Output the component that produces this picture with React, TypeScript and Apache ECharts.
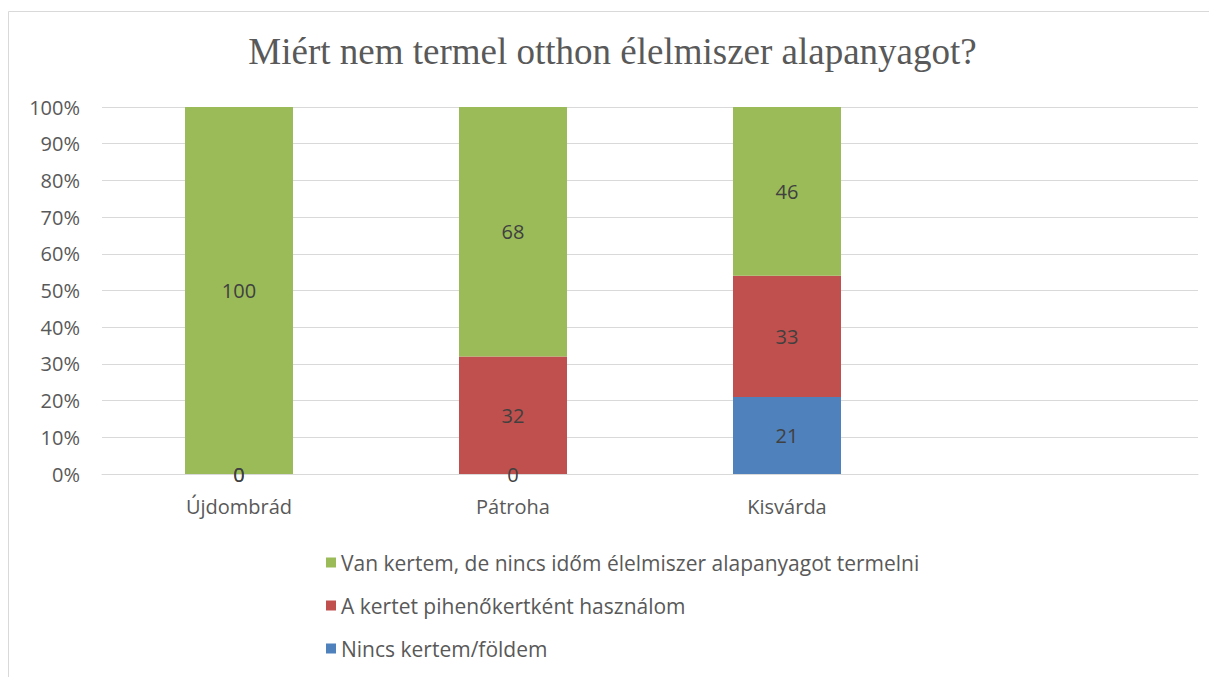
import React, { useEffect, useRef } from "react";
import * as echarts from "echarts";

const categories = ["Újdombrád", "Pátroha", "Kisvárda", ""];
const nincsKertem = [0, 0, 21, null];
const piheno = [0, 32, 33, null];
const nincsIdom = [100, 68, 46, null];
const yTicks = [0, 10, 20, 30, 40, 50, 60, 70, 80, 90, 100];

const seriesNames = [
  "Nincs kertem/földem",
  "A kertet pihenőkertként használom",
  "Van kertem, de nincs időm élelmiszer alapanyagot termelni",
];
const colors = ["#4f81bd", "#c0504d", "#9bbb59"];
const FONT = "'Open Sans', 'Noto Sans', sans-serif";

export default function App() {
  const ref = useRef<HTMLDivElement>(null);
  useEffect(() => {
    if (!ref.current) return;
    const chart = echarts.init(ref.current, null, { renderer: "svg" });
    const datasets = [nincsKertem, piheno, nincsIdom];
    chart.setOption({
      animation: false,
      title: {
        text: "Miért nem termel otthon élelmiszer alapanyagot?",
        left: "center",
        top: 20,
        textStyle: {
          fontFamily: "'Liberation Serif', 'DejaVu Serif', serif",
          fontSize: 37,
          fontWeight: "normal",
          color: "#595959",
        },
      },
      graphic: [
        {
          type: "rect",
          shape: { x: 0.5, y: 3.5, width: 1400, height: 900 },
          style: { fill: "none", stroke: "#d9d9d9", lineWidth: 1 },
          silent: true,
        },
      ],
      legend: {
        orient: "vertical",
        left: 313,
        top: 539,
        itemWidth: 10,
        itemHeight: 10,
        itemGap: 22,
        icon: "rect",
        data: [seriesNames[2], seriesNames[1], seriesNames[0]],
        textStyle: { fontFamily: FONT, fontSize: 21, color: "#595959" },
      },
      grid: { left: 94, right: 19, top: 99, bottom: 203, containLabel: false },
      xAxis: {
        type: "category",
        data: categories,
        axisLine: { show: true, lineStyle: { color: "#d9d9d9" } },
        axisTick: { show: false },
        axisLabel: { fontFamily: FONT, fontSize: 20, color: "#595959", margin: 22 },
      },
      yAxis: {
        type: "value",
        min: 0,
        max: 100,
        interval: 10,
        axisLine: { show: false },
        axisTick: { show: false },
        splitLine: { lineStyle: { color: "#d9d9d9" } },
        axisLabel: {
          fontFamily: FONT,
          fontSize: 20,
          color: "#595959",
          margin: 22,
          formatter: (v: number) => (yTicks.includes(v) ? `${v}%` : ""),
        },
      },
      series: datasets.map((d, i) => ({
        name: seriesNames[i],
        type: "bar",
        stack: "total",
        data: d,
        barWidth: 108,
        itemStyle: { color: colors[i] },
        label: {
          show: true,
          position: "inside",
          fontFamily: FONT,
          fontSize: 20,
          color: "#404040",
        },
      })),
    });
    return () => chart.dispose();
  }, []);
  return <div ref={ref} style={{ width: 1209, height: 669 }} />;
}
